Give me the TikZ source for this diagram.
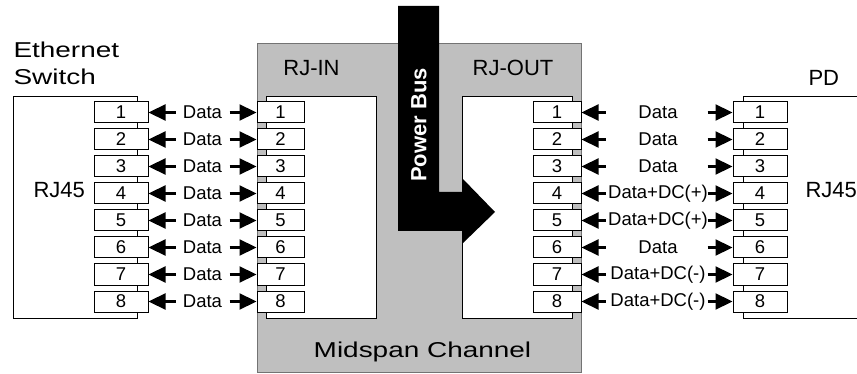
\documentclass[tikz,border=0pt]{standalone}
\usepackage{fontspec}
\setmainfont{Liberation Sans}
\newfontfamily\widefont{Liberation Sans}[FakeStretch=1.3]
\usetikzlibrary{calc}
\usetikzlibrary{arrows.meta}
\usetikzlibrary{positioning}

\begin{document}
\begin{tikzpicture}[x=1pt,y=-1pt,line width=1pt,
  pin/.style={draw,fill=white,minimum height=21pt,inner sep=0pt,font=\fontsize{18.5}{18}\selectfont},
  lbl/.style={inner sep=0pt,font=\fontsize{18.5}{18}\selectfont},
  head/.style={inner sep=0pt,font=\fontsize{22}{22}\selectfont},
  widehead/.style={inner sep=0pt,font=\widefont\fontsize{21.5}{22}\selectfont},
  dat/.style={line width=2.2pt,-{Triangle[length=17pt,width=16pt]}}]

\useasboundingbox (0,0) rectangle (857,374);

\draw[draw=black!55,fill=black!25] (257,44) rectangle (581,372);
\draw[fill=white] (266,97) rectangle (376,318);
\draw[fill=white] (462,97) rectangle (572,318);
\fill (398,6) -- (439,6) -- (439,192) -- (462,192) -- (462,178) -- (495,212)
  -- (462,244) -- (462,231) -- (398,231) -- cycle;
\node[rotate=90,white,inner sep=0pt,font=\bfseries\fontsize{22}{22}\selectfont] (pbus) at (419,125) {Power Bus};

\draw[fill=white] (13,97) rectangle (137,318);
\draw (857,97) -- (743,97) -- (743,318) -- (857,318);

\foreach \i/\t in {1/Data,2/Data,3/Data,4/Data+DC(+),5/Data+DC(+),6/Data,7/Data+DC(-),8/Data+DC(-)} {
  \pgfmathsetmacro\y{112.5+27*(\i-1)}
  \node[pin,minimum width=54pt] (sw\i) at (121,\y) {\i};
  \node[pin,minimum width=47pt] (in\i) at (280.5,\y) {\i};
  \node[pin,minimum width=48pt] (out\i) at (557,\y) {\i};
  \node[pin,minimum width=54pt] (pd\i) at (760,\y) {\i};
  \node[lbl] (ld\i) at (202.5,\y) {Data};
  \node[lbl] (rd\i) at (658,\y) {\t};
  \coordinate (la\i) at ($(sw\i.east)+(27,0)$);
  \coordinate (lb\i) at ($(in\i.west)+(-27,0)$);
  \coordinate (ra\i) at ($(out\i.east)+(24,0)$);
  \coordinate (rb\i) at ($(pd\i.west)+(-25,0)$);
  \draw[dat] (la\i) -- (sw\i.east);
  \draw[dat] (lb\i) -- (in\i.west);
  \draw[dat] (ra\i) -- (out\i.east);
  \draw[dat] (rb\i) -- (pd\i.west);
}

\node[widehead,anchor=base west] (eth) at (13,58) {Ethernet};
\node[widehead,anchor=base west] (swt) at (13,85) {Switch};
\node[head,anchor=base west] (rjl) at (33,198) {RJ45};
\node[head,anchor=base] (rjin) at (311.5,76) {RJ-IN};
\node[head,anchor=base] (rjout) at (513,76) {RJ-OUT};
\node[head,anchor=base west] (pd) at (808,86) {PD};
\node[head,anchor=base west] (rjr) at (805,198) {RJ45};
\node[widehead,anchor=base] (mid) at (422.5,357) {Midspan Channel};
\end{tikzpicture}
\end{document}
